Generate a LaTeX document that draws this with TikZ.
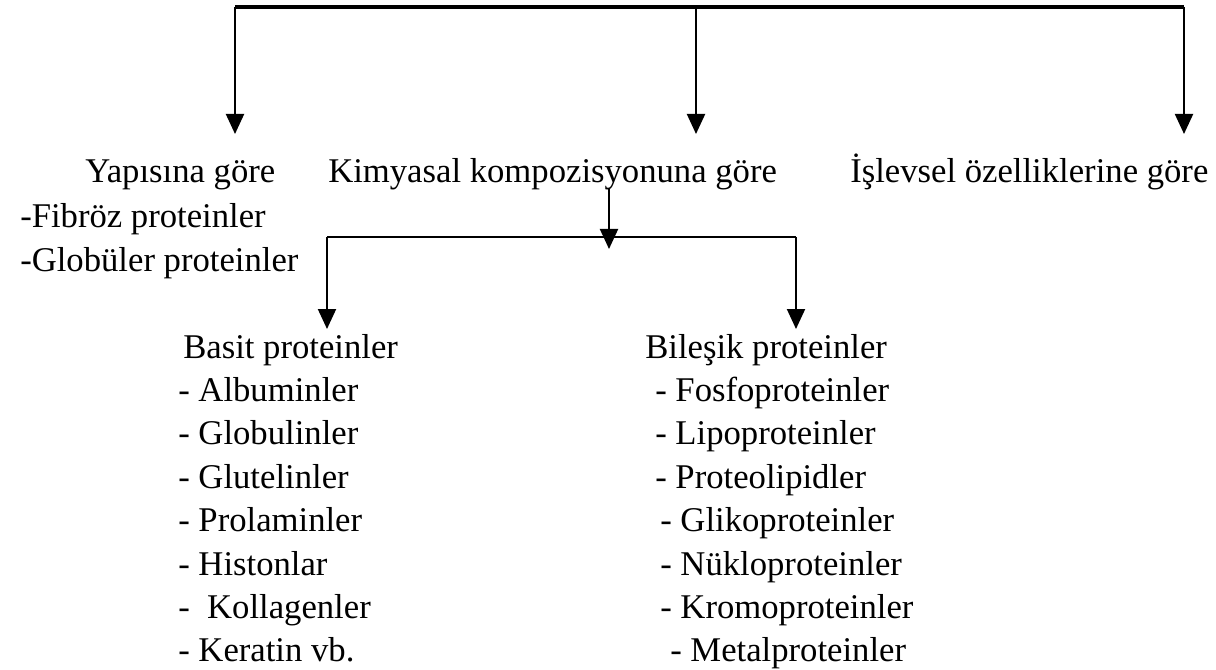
\documentclass[tikz,border=0pt]{standalone}
\usepackage{fontspec}
\setmainfont{Liberation Serif}
\usetikzlibrary{arrows.meta}

\begin{document}
\begin{tikzpicture}[x=0.75pt, y=-0.75pt,
    lbl/.style={anchor=base west, inner sep=0pt,
                font=\fontsize{26}{32.5}\selectfont},
    arr/.style={-{Triangle[width=13.5pt,length=15pt]}, line width=1.5pt},
    bar/.style={line width=3pt}]
    \useasboundingbox (0,0) rectangle (1216,670);
    % first level
    \node[lbl] (yapi)  at (85,183)  {Yapısına göre};
    \node[lbl] (kimya) at (328,183) {Kimyasal kompozisyonuna göre};
    \node[lbl] (islev) at (850,183) {İşlevsel özelliklerine göre};
    \node[lbl] (fibroz)  at (20,228) {-Fibröz proteinler};
    \node[lbl] (globuler) at (20,272) {-Globüler proteinler};
    % second level
    \node[lbl] (basit)   at (183,358) {Basit proteinler};
    \node[lbl] (bilesik) at (645,358) {Bileşik proteinler};
    \foreach \txt [count=\i] in {- Albuminler, - Globulinler, - Glutelinler,
        - Prolaminler, - Histonlar, -\ \ Kollagenler, - Keratin vb.}
      \node[lbl] (basit\i) at (178,358+43.4*\i) {\txt};
    \foreach \dx/\txt [count=\i] in {0/- Fosfoproteinler, 0/- Lipoproteinler,
        0/- Proteolipidler, 5/- Glikoproteinler, 5/- Nükloproteinler,
        5/- Kromoproteinler, 15/- Metalproteinler}
      \node[lbl] (bilesik\i) at (655+\dx,358+43.4*\i) {\txt};
    % connectors
    \coordinate (barL) at (235,7);
    \coordinate (barR) at (1184,7);
    \coordinate (tipY) at (235,134);
    \coordinate (tipK) at (696,134);
    \coordinate (tipI) at (1184,134);
    \draw[bar] (barL) -- (barR);
    \draw[arr] (barL) -- (tipY);
    \draw[arr] (barL -| tipK) -- (tipK);
    \draw[arr] (barR) -- (tipI);
    \coordinate (kimyaOut) at (609,188);
    \coordinate (splitM) at (609,249);
    \coordinate (splitL) at (327,237);
    \coordinate (splitR) at (796,237);
    \coordinate (tipB) at (327,329);
    \coordinate (tipC) at (796,329);
    \draw[arr] (kimyaOut) -- (splitM);
    \draw[line width=1.1pt] (splitL) -- (splitR);
    \draw[arr] (splitL) -- (tipB);
    \draw[arr] (splitR) -- (tipC);
\end{tikzpicture}
\end{document}
